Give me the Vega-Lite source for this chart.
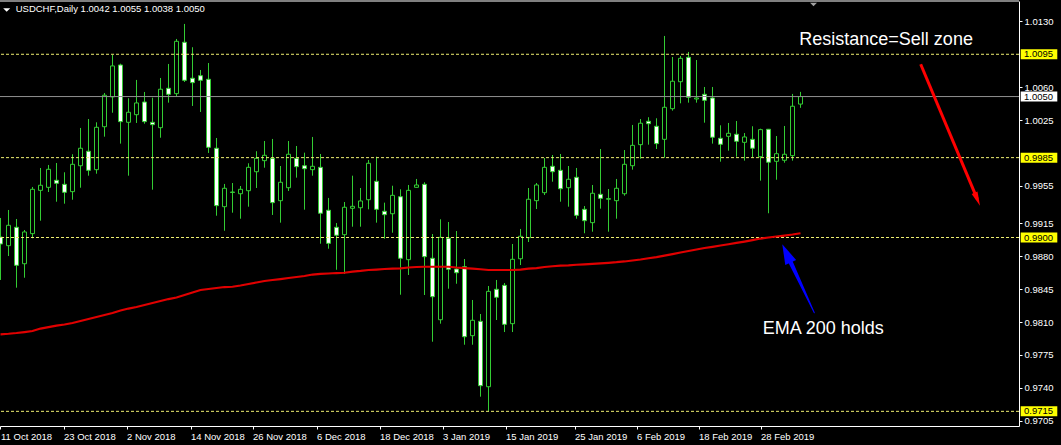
{
  "$schema": "https://vega.github.io/schema/vega-lite/v6.json",
  "width": 1019,
  "height": 425,
  "autosize": {"type": "none"},
  "padding": {"left": 0, "top": 1, "right": 42, "bottom": 19},
  "background": "#000000",
  "config": {
    "view": {"stroke": null, "fill": "#000000"},
    "font": "Liberation Sans",
    "axis": {"title": null, "grid": false},
    "scale": {"continuousPadding": 0}
  },
  "datasets": {
    "candles": [
      {"i":0,"open":0.99005,"high":0.99208,"low":0.98548,"close":0.98931,"ema":0.97970},
      {"i":1,"open":0.98913,"high":0.99293,"low":0.98803,"close":0.99130,"ema":0.97976},
      {"i":2,"open":0.99109,"high":0.99197,"low":0.98466,"close":0.98704,"ema":0.97984},
      {"i":3,"open":0.98721,"high":0.99080,"low":0.98572,"close":0.99059,"ema":0.97994},
      {"i":4,"open":0.99041,"high":0.99538,"low":0.98992,"close":0.99513,"ema":0.98005},
      {"i":5,"open":0.99502,"high":0.99740,"low":0.99179,"close":0.99556,"ema":0.98031},
      {"i":6,"open":0.99534,"high":0.99772,"low":0.99484,"close":0.99726,"ema":0.98047},
      {"i":7,"open":0.99609,"high":0.99793,"low":0.99381,"close":0.99577,"ema":0.98063},
      {"i":8,"open":0.99566,"high":0.99694,"low":0.99360,"close":0.99481,"ema":0.98074},
      {"i":9,"open":0.99488,"high":0.99886,"low":0.99402,"close":0.99779,"ema":0.98090},
      {"i":10,"open":0.99764,"high":1.00166,"low":0.99530,"close":0.99950,"ema":0.98111},
      {"i":11,"open":0.99918,"high":1.00261,"low":0.99658,"close":0.99715,"ema":0.98133},
      {"i":12,"open":0.99722,"high":1.00226,"low":0.99679,"close":1.00173,"ema":0.98154},
      {"i":13,"open":1.00179,"high":1.00538,"low":1.00073,"close":1.00514,"ema":0.98175},
      {"i":14,"open":1.00496,"high":1.00943,"low":1.00328,"close":1.00826,"ema":0.98196},
      {"i":15,"open":1.00836,"high":1.00850,"low":0.99999,"close":1.00233,"ema":0.98223},
      {"i":16,"open":1.00226,"high":1.00482,"low":0.99658,"close":1.00333,"ema":0.98244},
      {"i":17,"open":1.00307,"high":1.00677,"low":1.00219,"close":1.00432,"ema":0.98260},
      {"i":18,"open":1.00442,"high":1.00549,"low":1.00211,"close":1.00233,"ema":0.98282},
      {"i":19,"open":1.00226,"high":1.00488,"low":0.99509,"close":1.00201,"ema":0.98303},
      {"i":20,"open":1.00169,"high":1.00698,"low":1.00062,"close":1.00578,"ema":0.98324},
      {"i":21,"open":1.00588,"high":1.00847,"low":1.00435,"close":1.00524,"ema":0.98345},
      {"i":22,"open":1.00531,"high":1.01113,"low":1.00499,"close":1.01088,"ema":0.98361},
      {"i":23,"open":1.01078,"high":1.01273,"low":1.00655,"close":1.00673,"ema":0.98388},
      {"i":24,"open":1.00695,"high":1.01025,"low":1.00400,"close":1.00648,"ema":0.98415},
      {"i":25,"open":1.00722,"high":1.00783,"low":1.00336,"close":1.00673,"ema":0.98441},
      {"i":26,"open":1.00684,"high":1.00857,"low":0.99900,"close":0.99960,"ema":0.98452},
      {"i":27,"open":0.99950,"high":1.00059,"low":0.99232,"close":0.99339,"ema":0.98463},
      {"i":28,"open":0.99328,"high":0.99570,"low":0.99072,"close":0.99524,"ema":0.98473},
      {"i":29,"open":0.99484,"high":0.99580,"low":0.99264,"close":0.99480,"ema":0.98476},
      {"i":30,"open":0.99466,"high":0.99548,"low":0.99200,"close":0.99513,"ema":0.98489},
      {"i":31,"open":0.99498,"high":0.99790,"low":0.99328,"close":0.99747,"ema":0.98505},
      {"i":32,"open":0.99700,"high":0.99918,"low":0.99527,"close":0.99843,"ema":0.98521},
      {"i":33,"open":0.99818,"high":1.00027,"low":0.99743,"close":0.99875,"ema":0.98537},
      {"i":34,"open":0.99843,"high":1.00049,"low":0.99240,"close":0.99371,"ema":0.98548},
      {"i":35,"open":0.99392,"high":0.99761,"low":0.99158,"close":0.99588,"ema":0.98558},
      {"i":36,"open":0.99530,"high":1.00027,"low":0.99495,"close":0.99886,"ema":0.98569},
      {"i":37,"open":0.99843,"high":0.99974,"low":0.99637,"close":0.99754,"ema":0.98580},
      {"i":38,"open":0.99764,"high":0.99903,"low":0.99296,"close":0.99732,"ema":0.98590},
      {"i":39,"open":0.99722,"high":1.00070,"low":0.99658,"close":0.99758,"ema":0.98606},
      {"i":40,"open":0.99747,"high":0.99889,"low":0.98934,"close":0.99258,"ema":0.98612},
      {"i":41,"open":0.99290,"high":0.99421,"low":0.98881,"close":0.98938,"ema":0.98617},
      {"i":42,"open":0.99109,"high":0.99154,"low":0.98657,"close":0.99024,"ema":0.98622},
      {"i":43,"open":0.99030,"high":0.99378,"low":0.98612,"close":0.99322,"ema":0.98625},
      {"i":44,"open":0.99311,"high":0.99658,"low":0.99115,"close":0.99332,"ema":0.98636},
      {"i":45,"open":0.99317,"high":0.99527,"low":0.99115,"close":0.99389,"ema":0.98644},
      {"i":46,"open":0.99402,"high":0.99825,"low":0.99300,"close":0.99790,"ema":0.98654},
      {"i":47,"open":0.99598,"high":0.99860,"low":0.99158,"close":0.99300,"ema":0.98659},
      {"i":48,"open":0.99279,"high":0.99371,"low":0.98987,"close":0.99243,"ema":0.98665},
      {"i":49,"open":0.99253,"high":0.99551,"low":0.99051,"close":0.99449,"ema":0.98668},
      {"i":50,"open":0.99434,"high":0.99513,"low":0.98391,"close":0.98779,"ema":0.98672},
      {"i":51,"open":0.98764,"high":0.99559,"low":0.98601,"close":0.99502,"ema":0.98681},
      {"i":52,"open":0.99534,"high":0.99623,"low":0.99530,"close":0.99559,"ema":0.98686},
      {"i":53,"open":0.99566,"high":0.99588,"low":0.98388,"close":0.98796,"ema":0.98689},
      {"i":54,"open":0.98779,"high":0.99037,"low":0.97891,"close":0.98370,"ema":0.98689},
      {"i":55,"open":0.98125,"high":0.99194,"low":0.98083,"close":0.99002,"ema":0.98689},
      {"i":56,"open":0.98992,"high":0.99165,"low":0.98455,"close":0.98662,"ema":0.98689},
      {"i":57,"open":0.98665,"high":0.99069,"low":0.98508,"close":0.98625,"ema":0.98681},
      {"i":58,"open":0.98689,"high":0.98771,"low":0.97859,"close":0.97944,"ema":0.98675},
      {"i":59,"open":0.97955,"high":0.98335,"low":0.97859,"close":0.98119,"ema":0.98668},
      {"i":60,"open":0.98108,"high":0.98186,"low":0.97306,"close":0.97423,"ema":0.98662},
      {"i":61,"open":0.97412,"high":0.98484,"low":0.97150,"close":0.98427,"ema":0.98654},
      {"i":62,"open":0.98449,"high":0.98548,"low":0.98122,"close":0.98364,"ema":0.98654},
      {"i":63,"open":0.98491,"high":0.98516,"low":0.97994,"close":0.98076,"ema":0.98654},
      {"i":64,"open":0.98083,"high":0.98931,"low":0.97994,"close":0.98768,"ema":0.98654},
      {"i":65,"open":0.98774,"high":0.99091,"low":0.98707,"close":0.99013,"ema":0.98659},
      {"i":66,"open":0.98998,"high":0.99527,"low":0.98952,"close":0.99407,"ema":0.98668},
      {"i":67,"open":0.99392,"high":0.99580,"low":0.99303,"close":0.99559,"ema":0.98675},
      {"i":68,"open":0.99477,"high":0.99846,"low":0.99452,"close":0.99747,"ema":0.98686},
      {"i":69,"open":0.99758,"high":0.99878,"low":0.99594,"close":0.99700,"ema":0.98694},
      {"i":70,"open":0.99715,"high":0.99889,"low":0.99381,"close":0.99519,"ema":0.98700},
      {"i":71,"open":0.99530,"high":0.99761,"low":0.99328,"close":0.99620,"ema":0.98704},
      {"i":72,"open":0.99641,"high":0.99740,"low":0.99200,"close":0.99236,"ema":0.98710},
      {"i":73,"open":0.99300,"high":0.99335,"low":0.99045,"close":0.99179,"ema":0.98715},
      {"i":74,"open":0.99158,"high":0.99559,"low":0.99062,"close":0.99471,"ema":0.98720},
      {"i":75,"open":0.99460,"high":0.99942,"low":0.99307,"close":0.99417,"ema":0.98725},
      {"i":76,"open":0.99407,"high":0.99516,"low":0.99062,"close":0.99414,"ema":0.98731},
      {"i":77,"open":0.99392,"high":0.99623,"low":0.99200,"close":0.99524,"ema":0.98737},
      {"i":78,"open":0.99466,"high":0.99931,"low":0.99445,"close":0.99779,"ema":0.98745},
      {"i":79,"open":0.99764,"high":1.00198,"low":0.99722,"close":0.99981,"ema":0.98755},
      {"i":80,"open":0.99988,"high":1.00261,"low":0.99839,"close":1.00216,"ema":0.98766},
      {"i":81,"open":1.00237,"high":1.00280,"low":0.99988,"close":1.00211,"ema":0.98779},
      {"i":82,"open":1.00184,"high":1.00269,"low":0.99942,"close":0.99999,"ema":0.98792},
      {"i":83,"open":1.00045,"high":1.01145,"low":0.99849,"close":1.00386,"ema":0.98808},
      {"i":84,"open":1.00371,"high":1.00921,"low":1.00350,"close":1.00663,"ema":0.98824},
      {"i":85,"open":1.00658,"high":1.00932,"low":1.00428,"close":1.00907,"ema":0.98840},
      {"i":86,"open":1.00918,"high":1.00975,"low":1.00435,"close":1.00492,"ema":0.98856},
      {"i":87,"open":1.00474,"high":1.00889,"low":1.00435,"close":1.00485,"ema":0.98872},
      {"i":88,"open":1.00524,"high":1.00602,"low":1.00222,"close":1.00460,"ema":0.98888},
      {"i":89,"open":1.00485,"high":1.00602,"low":0.99999,"close":1.00067,"ema":0.98901},
      {"i":90,"open":1.00056,"high":1.00194,"low":0.99807,"close":0.99992,"ema":0.98915},
      {"i":91,"open":1.00077,"high":1.00219,"low":0.99924,"close":1.00109,"ema":0.98928},
      {"i":92,"open":1.00099,"high":1.00240,"low":0.99860,"close":1.00024,"ema":0.98942},
      {"i":93,"open":1.00013,"high":1.00112,"low":0.99818,"close":1.00070,"ema":0.98957},
      {"i":94,"open":1.00045,"high":1.00184,"low":0.99854,"close":0.99950,"ema":0.98973},
      {"i":95,"open":0.99860,"high":1.00158,"low":0.99605,"close":1.00148,"ema":0.98989},
      {"i":96,"open":1.00152,"high":1.00155,"low":0.99258,"close":0.99801,"ema":0.99000},
      {"i":97,"open":0.99811,"high":1.00080,"low":0.99615,"close":0.99892,"ema":0.99011},
      {"i":98,"open":0.99822,"high":1.00187,"low":0.99796,"close":0.99886,"ema":0.99021},
      {"i":99,"open":0.99871,"high":1.00528,"low":0.99818,"close":1.00397,"ema":0.99032},
      {"i":100,"open":1.0042,"high":1.0055,"low":1.0038,"close":1.0050,"ema":0.99045}
    ],
    "levels": [
      {"price": 1.0095, "label": "1.0095", "kind": "line"},
      {"price": 0.9985, "label": "0.9985", "kind": "line"},
      {"price": 0.9900, "label": "0.9900", "kind": "line"},
      {"price": 0.9715, "label": "0.9715", "kind": "line"},
      {"price": 1.0050, "label": "1.0050", "kind": "bid"}
    ],
    "arrows": [
      {"arrow": "red", "end": "tail", "i": 115.025, "p": 1.00844},
      {"arrow": "red", "end": "head", "i": 122.1, "p": 0.99408},
      {"arrow": "blue", "end": "tail", "i": 101.725, "p": 0.98200},
      {"arrow": "blue", "end": "head", "i": 98.25, "p": 0.98831}
    ]
  },
  "layer": [
    {
      "data": {"name": "candles"},
      "mark": {"type": "rule", "color": "#33cc33", "strokeWidth": 1},
      "encoding": {
        "x": {"field": "i", "type": "quantitative",
          "scale": {"domain": [-0.0625, 127.3125], "nice": false, "zero": false, "padding": 0},
          "axis": {
            "orient": "bottom", "title": null, "grid": false,
            "domain": true, "domainColor": "#ffffff", "domainWidth": 1,
            "values": [0, 7.875, 15.75, 23.75, 31.5, 39.5, 47.375, 55.25, 63.125, 71.75, 79.5, 87.25, 95],
            "labelExpr": "['11 Oct 2018','23 Oct 2018','2 Nov 2018','14 Nov 2018','26 Nov 2018','6 Dec 2018','18 Dec 2018','3 Jan 2019','15 Jan 2019','25 Jan 2019','6 Feb 2019','18 Feb 2019','28 Feb 2019'][indexof([0, 7.875, 15.75, 23.75, 31.5, 39.5, 47.375, 55.25, 63.125, 71.75, 79.5, 87.25, 95], datum.value)]",
            "tickColor": "#ffffff", "tickSize": 3, "labelColor": "#ffffff",
            "labelFont": "Liberation Sans", "labelFontSize": 9.5,
            "labelAlign": "left", "labelBaseline": "top", "labelPadding": 2,
            "labelOverlap": false, "labelFlush": false
          }
        },
        "y": {"field": "low", "type": "quantitative",
          "scale": {"domain": [0.96994, 1.01517], "nice": false, "zero": false, "padding": 0},
          "axis": {
            "orient": "right", "title": null, "grid": false,
            "domain": true, "domainColor": "#ffffff", "domainWidth": 1,
            "values": [1.0130, 1.0060, 1.0025, 0.9955, 0.9915, 0.9880, 0.9845, 0.9810, 0.9775, 0.9740, 0.9705],
            "format": ".4f",
            "tickColor": "#ffffff", "tickSize": 3, "labelColor": "#ffffff",
            "labelFont": "Liberation Sans", "labelFontSize": 9.5,
            "labelPadding": 2, "labelOverlap": false, "labelFlush": false
          }
        },
        "y2": {"field": "high"}
      }
    },
    {
      "data": {"name": "candles"},
      "mark": {"type": "bar", "width": 4, "stroke": "#33cc33", "strokeWidth": 1, "orient": "vertical"},
      "encoding": {
        "x": {"field": "i", "type": "quantitative"},
        "y": {"field": "open", "type": "quantitative"},
        "y2": {"field": "close"},
        "fill": {"condition": {"test": "datum.close < datum.open", "value": "#ffffff"}, "value": "#000000"}
      }
    },
    {
      "data": {"name": "levels"},
      "transform": [{"filter": "datum.kind == 'line'"}],
      "mark": {"type": "rule", "color": "#eeee70", "strokeWidth": 1, "strokeDash": [3, 2]},
      "encoding": {
        "y": {"field": "price", "type": "quantitative"}
      }
    },
    {
      "data": {"name": "levels"},
      "transform": [{"filter": "datum.kind == 'bid'"}],
      "mark": {"type": "rule", "color": "#909090", "strokeWidth": 1},
      "encoding": {
        "y": {"field": "price", "type": "quantitative"}
      }
    },
    {
      "data": {"values": [{"edge": "top"}]},
      "mark": {"type": "rule", "color": "#ffffff", "strokeWidth": 1},
      "encoding": {
        "y": {"datum": 1.01517, "type": "quantitative"}
      }
    },
    {
      "data": {"name": "candles"},
      "mark": {"type": "line", "color": "#e00000", "strokeWidth": 2.2},
      "encoding": {
        "x": {"field": "i", "type": "quantitative"},
        "y": {"field": "ema", "type": "quantitative"}
      }
    },
    {
      "data": {"name": "levels"},
      "mark": {"type": "bar", "height": 10, "orient": "horizontal"},
      "encoding": {
        "x": {"datum": 127.525, "type": "quantitative"},
        "x2": {"datum": 132.1},
        "y": {"field": "price", "type": "quantitative"},
        "fill": {"condition": {"test": "datum.kind == 'bid'", "value": "#ffffff"}, "value": "#ffff00"}
      }
    },
    {
      "data": {"name": "levels"},
      "mark": {"type": "text", "align": "left", "baseline": "middle", "font": "Liberation Sans", "fontSize": 9.5, "color": "#000000"},
      "encoding": {
        "x": {"datum": 127.94, "type": "quantitative"},
        "y": {"field": "price", "type": "quantitative"},
        "text": {"field": "label"}
      }
    },
    {
      "data": {"name": "arrows"},
      "transform": [{"filter": "datum.arrow == 'red'"}],
      "mark": {"type": "line", "color": "#ff0000", "strokeWidth": 3},
      "encoding": {
        "x": {"field": "i", "type": "quantitative"},
        "y": {"field": "p", "type": "quantitative"}
      }
    },
    {
      "data": {"name": "arrows"},
      "transform": [{"filter": "datum.arrow == 'red' && datum.end == 'head'"}],
      "mark": {"type": "point", "shape": "M0,-1L0.45,1L-0.45,1Z", "size": 196, "angle": 157.25, "filled": true, "color": "#ff0000", "opacity": 1},
      "encoding": {
        "x": {"field": "i", "type": "quantitative"},
        "y": {"field": "p", "type": "quantitative"}
      }
    },
    {
      "data": {"name": "arrows"},
      "transform": [{"filter": "datum.arrow == 'blue'"}],
      "mark": {"type": "trail", "color": "#0000ff"},
      "encoding": {
        "x": {"field": "i", "type": "quantitative"},
        "y": {"field": "p", "type": "quantitative"},
        "size": {"field": "end", "type": "ordinal", "scale": {"domain": ["tail", "head"], "range": [1, 5]}, "legend": null}
      }
    },
    {
      "data": {"name": "arrows"},
      "transform": [{"filter": "datum.arrow == 'blue' && datum.end == 'head'"}],
      "mark": {"type": "point", "shape": "M0,-1L0.6,1L-0.6,1Z", "size": 400, "angle": 335, "filled": true, "color": "#0000ff", "opacity": 1},
      "encoding": {
        "x": {"field": "i", "type": "quantitative"},
        "y": {"field": "p", "type": "quantitative"}
      }
    },
    {
      "data": {"values": [{"note": "Resistance=Sell zone"}]},
      "mark": {"type": "text", "align": "left", "baseline": "alphabetic", "font": "Liberation Sans", "fontSize": 18, "color": "#ffffff"},
      "encoding": {
        "x": {"datum": 99.85, "type": "quantitative"},
        "y": {"datum": 1.01049, "type": "quantitative"},
        "text": {"field": "note"}
      }
    },
    {
      "data": {"values": [{"note": "EMA 200 holds"}]},
      "mark": {"type": "text", "align": "left", "baseline": "alphabetic", "font": "Liberation Sans", "fontSize": 18, "color": "#ffffff"},
      "encoding": {
        "x": {"datum": 95.275, "type": "quantitative"},
        "y": {"datum": 0.97970, "type": "quantitative"},
        "text": {"field": "note"}
      }
    },
    {
      "data": {"values": [{"note": "USDCHF,Daily  1.0042 1.0055 1.0038 1.0050"}]},
      "mark": {"type": "text", "align": "left", "baseline": "middle", "font": "Liberation Sans", "fontSize": 9.5, "color": "#ffffff"},
      "encoding": {
        "x": {"datum": 1.9, "type": "quantitative"},
        "y": {"datum": 1.01427, "type": "quantitative"},
        "text": {"field": "note"}
      }
    },
    {
      "data": {"values": [{"marker": "menu"}]},
      "mark": {"type": "point", "shape": "M-1,-0.5L1,-0.5L0,0.5Z", "size": 49, "filled": true, "color": "#ffffff", "opacity": 1},
      "encoding": {
        "x": {"datum": 0.775, "type": "quantitative"},
        "y": {"datum": 1.01422, "type": "quantitative"}
      }
    },
    {
      "data": {"values": [{"marker": "shift"}]},
      "mark": {"type": "point", "shape": "M-1,-0.5L1,-0.5L0,0.5Z", "size": 49, "filled": true, "color": "#a0a0a0", "opacity": 1},
      "encoding": {
        "x": {"datum": 101.625, "type": "quantitative"},
        "y": {"datum": 1.01480, "type": "quantitative"}
      }
    }
  ]
}
